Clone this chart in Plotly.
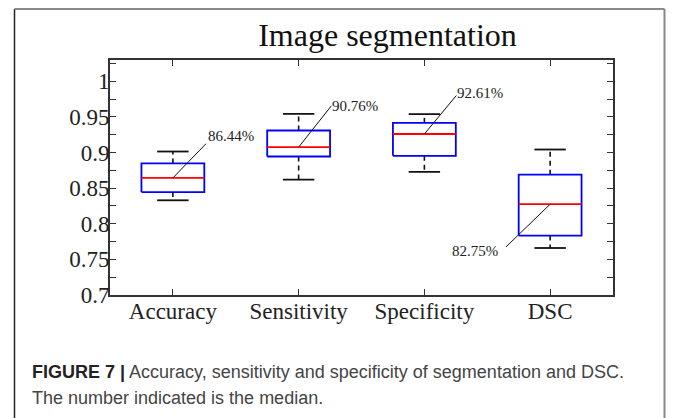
import plotly.graph_objects as go

# ---- data ----
categories = ["Accuracy", "Sensitivity", "Specificity", "DSC"]
lower_whisker = [0.833, 0.862, 0.873, 0.766]
q1 = [0.8445, 0.8945, 0.8955, 0.7835]
median = [0.8644, 0.9076, 0.9261, 0.8275]
q3 = [0.8847, 0.931, 0.9417, 0.869]
upper_whisker = [0.9015, 0.9543, 0.954, 0.9043]
median_labels = ["86.44%", "90.76%", "92.61%", "82.75%"]
y_ticks = [0.7, 0.725, 0.75, 0.775, 0.8, 0.825, 0.85, 0.875, 0.9, 0.925, 0.95, 0.975, 1.0, 1.025]
y_ticktext = ["0.7", "", "0.75", "", "0.8", "", "0.85", "", "0.9", "", "0.95", "", "1", ""]

# ---- style / layout parameters ----
BOX_HALF = 0.25
CAP_HALF = 0.125
# label leader-line offsets (dx, dy) from the median point and text anchor
label_offsets = [(0.263, 0.048), (0.26, 0.058), (0.254, 0.054), (-0.351, -0.06)]
label_anchor = [("left", "bottom", 0, -2), ("left", "middle", -1, 0),
                ("left", "middle", -1, 3), ("right", "middle", -6, -4)]

OFF = 8  # page body margin
W, H = 674 - OFF, 418 - OFF
ML, MT = 110 - OFF, 60 - OFF
PW, PH = 503, 235
MR, MB = W - ML - PW, H - MT - PH


def px_x(px):
    return (px - OFF - ML) / PW


def px_y(py):
    return (MT + PH - (py - OFF)) / PH


xs = [i + 1 for i in range(len(categories))]

box_x, box_y, med_x, med_y = [], [], [], []
wh_x, wh_y, cap_x, cap_y = [], [], [], []
for i, x in enumerate(xs):
    box_x += [x - BOX_HALF, x + BOX_HALF, x + BOX_HALF, x - BOX_HALF, x - BOX_HALF, None]
    box_y += [q1[i], q1[i], q3[i], q3[i], q1[i], None]
    med_x += [x - BOX_HALF, x + BOX_HALF, None]
    med_y += [median[i], median[i], None]
    wh_x += [x, x, None, x, x, None]
    wh_y += [q3[i], upper_whisker[i], None, q1[i], lower_whisker[i], None]
    cap_x += [x - CAP_HALF, x + CAP_HALF, None, x - CAP_HALF, x + CAP_HALF, None]
    cap_y += [upper_whisker[i], upper_whisker[i], None, lower_whisker[i], lower_whisker[i], None]

fig = go.Figure()
fig.add_trace(go.Scatter(x=wh_x, y=wh_y, mode="lines",
                         line=dict(color="#111111", width=1.6, dash="5px,4px"),
                         hoverinfo="skip", showlegend=False))
fig.add_trace(go.Scatter(x=cap_x, y=cap_y, mode="lines",
                         line=dict(color="#111111", width=1.8),
                         hoverinfo="skip", showlegend=False))
fig.add_trace(go.Scatter(x=box_x, y=box_y, mode="lines",
                         line=dict(color="#0000ff", width=1.8),
                         hoverinfo="skip", showlegend=False))
fig.add_trace(go.Scatter(x=med_x, y=med_y, mode="lines",
                         line=dict(color="#ff0000", width=1.8),
                         hoverinfo="skip", showlegend=False))

# leader lines to the median labels
ld_x, ld_y = [], []
for i, x in enumerate(xs):
    dx, dy = label_offsets[i]
    ld_x += [x, x + dx, None]
    ld_y += [median[i], median[i] + dy, None]
fig.add_trace(go.Scatter(x=ld_x, y=ld_y, mode="lines",
                         line=dict(color="#111111", width=1),
                         hoverinfo="skip", showlegend=False))

annotations = []
for i, x in enumerate(xs):
    dx, dy = label_offsets[i]
    xa, ya, xsft, ysft = label_anchor[i]
    annotations.append(dict(x=x + dx, y=median[i] + dy, xref="x", yref="y",
                            text=median_labels[i], showarrow=False,
                            xanchor=xa, yanchor=ya, xshift=xsft, yshift=ysft,
                            font=dict(family="Liberation Serif", size=15, color="#222222")))

cap_font = dict(family="Liberation Sans", size=18, color="#444444")
annotations.append(dict(
    x=px_x(30), y=px_y(372), xref="paper", yref="paper", xanchor="left", yanchor="middle",
    showarrow=False, font=cap_font,
    text="<b><span style='color:#222222'>FIGURE 7 |</span></b> Accuracy, sensitivity and specificity of segmentation and DSC."))
annotations.append(dict(
    x=px_x(30), y=px_y(398), xref="paper", yref="paper", xanchor="left", yanchor="middle",
    showarrow=False, font=cap_font,
    text="The number indicated is the median."))

FRAME_TOP = 9
FRAME_LEFT = 14.5
FRAME_RIGHT = 664.5
shapes = [
    dict(type="line", xref="paper", yref="paper", x0=px_x(FRAME_LEFT), x1=px_x(FRAME_LEFT),
         y0=px_y(FRAME_TOP), y1=px_y(430), line=dict(color="#222222", width=1.5)),
    dict(type="line", xref="paper", yref="paper", x0=px_x(FRAME_LEFT), x1=px_x(FRAME_RIGHT),
         y0=px_y(FRAME_TOP), y1=px_y(FRAME_TOP), line=dict(color="#888888", width=2)),
    dict(type="line", xref="paper", yref="paper", x0=px_x(FRAME_RIGHT), x1=px_x(FRAME_RIGHT),
         y0=px_y(FRAME_TOP), y1=px_y(430), line=dict(color="#888888", width=2)),
]

axis_common = dict(ticks="inside", ticklen=6, tickwidth=1.3, tickcolor="#333333",
                   showline=True, linecolor="#333333", linewidth=1.6, mirror="ticks",
                   showgrid=False, zeroline=False,
                   tickfont=dict(family="Liberation Serif", size=23, color="#222222"))

fig.update_layout(
    width=W, height=H,
    margin=dict(l=ML, r=MR, t=MT, b=MB),
    paper_bgcolor="white", plot_bgcolor="white",
    title=dict(text="Image segmentation", x=px_x(387.5), xref="paper", xanchor="center",
               y=1 - (35 - OFF) / H, yref="container", yanchor="middle",
               font=dict(family="Liberation Serif", size=32, color="#111111")),
    xaxis=dict(range=[0.5, 4.5], tickmode="array", tickvals=xs, ticktext=categories,
               ticklabelstandoff=-5, **axis_common),
    yaxis=dict(range=[0.7, 1.03], tickmode="array", tickvals=y_ticks, ticktext=y_ticktext,
               ticklabelstandoff=-6, **axis_common),
    annotations=annotations, shapes=shapes,
)

fig.write_html("out.html")
